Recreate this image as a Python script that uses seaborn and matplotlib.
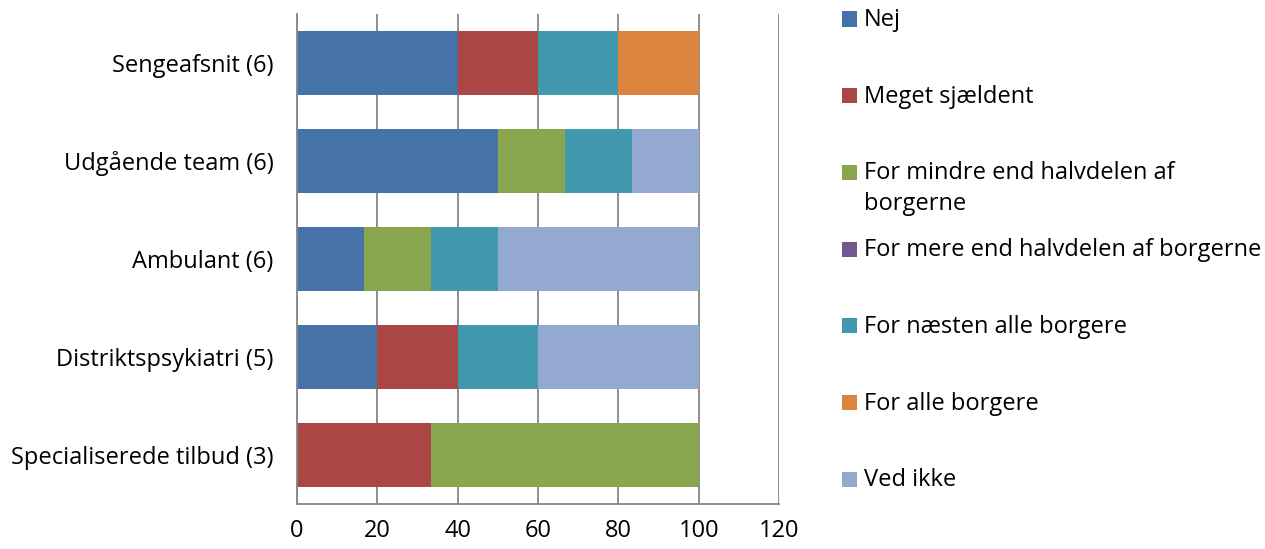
import numpy as np
import pandas as pd
import matplotlib
matplotlib.use("Agg")
import matplotlib.pyplot as plt
from matplotlib.patches import Rectangle
import seaborn as sns

# Units (number of respondents in parentheses)
categories = [
    "Sengeafsnit (6)",
    "Udgående team (6)",
    "Ambulant (6)",
    "Distriktspsykiatri (5)",
    "Specialiserede tilbud (3)",
]

# Answer categories (legend order) and their shares in percent
series_names = [
    "Nej",
    "Meget sjældent",
    "For mindre end halvdelen af\nborgerne",
    "For mere end halvdelen af borgerne",
    "For næsten alle borgere",
    "For alle borgere",
    "Ved ikke",
]
nej = [40, 50, 16.7, 20, 0]
meget_sjaeldent = [20, 0, 0, 20, 33.3]
mindre_end_halvdelen = [0, 16.7, 16.7, 0, 66.7]
mere_end_halvdelen = [0, 0, 0, 0, 0]
naesten_alle = [20, 16.7, 16.6, 20, 0]
alle = [20, 0, 0, 0, 0]
ved_ikke = [0, 16.6, 50, 40, 0]

series_values = [nej, meget_sjaeldent, mindre_end_halvdelen, mere_end_halvdelen,
                 naesten_alle, alle, ved_ikke]
colors = ["#4572A7", "#AA4643", "#89A54E", "#71588F", "#4198AF", "#DB843D", "#93A9CF"]

x_ticks = [0, 20, 40, 60, 80, 100, 120]

FS = 17

sns.set_theme(style="white")
plt.rcParams["font.family"] = ["Open Sans", "DejaVu Sans"]
plt.rcParams["font.size"] = FS

fig = plt.figure(figsize=(12.65, 5.49), dpi=100)
ax = fig.add_axes([297 / 1265, 1 - 504 / 549, (779 - 297) / 1265, (504 - 14) / 549])

# Stacked bars: draw cumulative totals from the last series backwards so each
# shorter bar covers the left part of the previous one.
cum = np.cumsum(np.array(series_values, dtype=float), axis=0)
for i in range(len(series_values) - 1, -1, -1):
    df = pd.DataFrame({"kategori": categories, "andel": cum[i]})
    sns.barplot(data=df, x="andel", y="kategori", orient="h", color=colors[i],
                saturation=1, width=0.655, ax=ax, linewidth=0, zorder=2)

ax.set_xlim(0, 120)
ax.set_xticks(x_ticks)
ax.set_xticklabels([str(t) for t in x_ticks])
ax.set_xlabel("")
ax.set_ylabel("")

grid_col = "#868686"
ax.set_axisbelow(True)
ax.xaxis.grid(True, color=grid_col, linewidth=1.3)
ax.yaxis.grid(False)
for side in ["top", "right"]:
    ax.spines[side].set_visible(False)
for side in ["left", "bottom"]:
    ax.spines[side].set_color(grid_col)
    ax.spines[side].set_linewidth(1.3)

ax.tick_params(axis="both", length=0, colors="black", labelsize=FS)
ax.tick_params(axis="y", pad=17)
ax.tick_params(axis="x", pad=11)

# Legend on the right, one row per answer category
legend_x = 842
text_x = 864
first_y = 19
step = 76.7
line_gap = 31
W, H = 1265, 549
for k, (name, col) in enumerate(zip(series_names, colors)):
    yc = first_y + k * step
    fig.patches.append(Rectangle((legend_x / W, 1 - (yc + 7.5) / H), 15 / W, 15 / H,
                                 transform=fig.transFigure, facecolor=col,
                                 edgecolor="none"))
    for j, line in enumerate(name.split("\n")):
        fig.text(text_x / W, 1 - (yc + 1 + j * line_gap) / H, line,
                 ha="left", va="center", fontsize=FS, color="black")

fig.savefig("out.png", dpi=100, facecolor="white")
